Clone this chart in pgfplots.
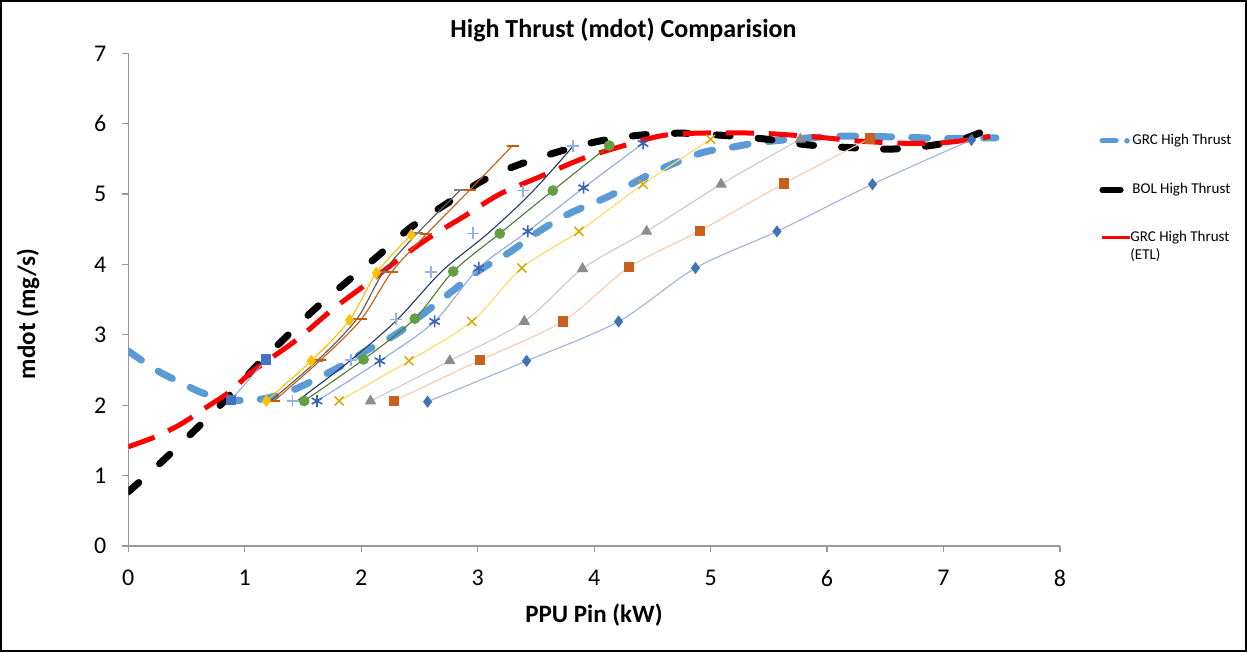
\documentclass[border=0pt]{standalone}
\usepackage{fontspec}
\setmainfont{Carlito}
\usepackage{pgfplots}
\pgfplotsset{compat=1.18}
\definecolor{grcblue}{HTML}{5B9BD5}
\definecolor{s1m}{HTML}{3F74B4}\definecolor{s1l}{HTML}{9FB3D6}
\definecolor{s2m}{HTML}{C9601E}\definecolor{s2l}{HTML}{F8CBAD}
\definecolor{s3m}{HTML}{8C8C8C}\definecolor{s3l}{HTML}{C9C9C9}
\definecolor{s4m}{HTML}{D9A400}\definecolor{s4l}{HTML}{FFD966}
\definecolor{s5m}{HTML}{3A62B2}\definecolor{s5l}{HTML}{8FAADC}
\definecolor{s6m}{HTML}{64A042}\definecolor{s6l}{HTML}{4E7A32}
\definecolor{s7m}{HTML}{8FB4E3}\definecolor{s7l}{HTML}{203864}
\definecolor{s8m}{HTML}{FFC000}
\definecolor{s9m}{HTML}{7F7F7F}\definecolor{s9l}{HTML}{595959}
\definecolor{s10m}{HTML}{C55A11}
\definecolor{s11m}{HTML}{4472C4}\definecolor{s11l}{HTML}{8FAADC}
\begin{document}
\begin{tikzpicture}[x=1pt,y=1pt]
\path[use as bounding box] (0,0) rectangle (623.5,326);
\draw[line width=1.2pt] (0.6,0.6) rectangle (622.9,325.4);
\begin{axis}[
  at={(64.15pt,53pt)}, anchor=south west,
  scale only axis, width=465.85pt, height=246.35pt,
  xmin=0,xmax=8,ymin=0,ymax=7,
  axis x line*=bottom, axis y line*=left,
  axis line style={draw=gray!80, line width=0.6pt, -},
  xtick={0,1,...,8}, ytick={0,1,...,7},
  tick style={draw=gray!80, line width=0.6pt},
  tick align=outside, major tick length=3pt,
  ticklabel style={font=\fontsize{12}{14}\selectfont},
  xticklabel style={yshift=-5.5pt},
  yticklabel style={xshift=-4.5pt},
  /pgf/number format/assume math mode=true,
  small/.style={smooth, tension=0.5, line width=0.55pt},
]
% GRC High Thrust
\addplot[smooth, color=grcblue, line width=3.5pt, dash pattern=on 8pt off 10pt, line cap=round, no marks] coordinates {
(0,2.77)(0.24,2.5)(0.44,2.33)(0.645,2.17)(0.88,2.08)(1.02,2.07)(1.19,2.1)(1.42,2.22)(1.62,2.38)(1.82,2.55)(2.05,2.78)(2.31,3.02)(2.62,3.41)(3.0,3.9)(3.28,4.18)(3.48,4.42)(3.77,4.71)(4.14,4.98)(4.5,5.3)(4.91,5.58)(5.2,5.67)(5.45,5.74)(6.05,5.82)(6.63,5.81)(7.0,5.79)(7.45,5.8)};
% BOL High Thrust
\addplot[smooth, color=black, line width=3.5pt, dash pattern=on 7pt off 14pt, line cap=round, no marks] coordinates {
(0,0.77)(0.27,1.17)(0.53,1.58)(0.79,2.0)(1.1,2.56)(1.33,2.93)(1.59,3.35)(1.88,3.76)(2.15,4.13)(2.42,4.52)(2.73,4.86)(3.04,5.19)(3.34,5.41)(3.71,5.61)(4.05,5.755)(4.41,5.84)(4.77,5.865)(5.14,5.83)(5.48,5.78)(5.83,5.70)(6.2,5.66)(6.57,5.64)(6.93,5.70)(7.2,5.8)(7.38,5.92)};
% GRC High Thrust (ETL)
\addplot[smooth, color=red, line width=2.5pt, dash pattern=on 14pt off 7.5pt, no marks] coordinates {
(0,1.41)(0.23,1.55)(0.45,1.73)(0.67,1.97)(0.87,2.19)(1.05,2.46)(1.27,2.72)(1.47,2.96)(1.76,3.37)(2.06,3.74)(2.36,4.12)(2.62,4.42)(2.88,4.68)(3.19,5.0)(3.54,5.25)(3.91,5.51)(4.28,5.70)(4.62,5.84)(5.05,5.87)(5.48,5.86)(5.91,5.81)(6.3,5.75)(6.7,5.72)(7.0,5.73)(7.26,5.78)(7.4,5.82)};
% small series
\addplot[small, color=s1l, mark=diamond*, mark size=2.6pt, mark options={fill=s1m, draw=s1m, solid}] coordinates {
(2.57,2.05)(3.42,2.63)(4.21,3.19)(4.87,3.95)(5.57,4.47)(6.39,5.14)(7.24,5.77)};
\addplot[small, color=s2l, mark=square*, mark size=2.3pt, mark options={fill=s2m, draw=s2m}] coordinates {
(2.28,2.06)(3.02,2.64)(3.73,3.19)(4.30,3.96)(4.91,4.48)(5.63,5.15)(6.37,5.79)};
\addplot[small, color=s3l, mark=triangle*, mark size=2.8pt, mark options={fill=s3m, draw=s3m}] coordinates {
(2.08,2.06)(2.76,2.63)(3.40,3.19)(3.90,3.94)(4.45,4.47)(5.09,5.14)(5.77,5.78)};
\addplot[small, color=s4l, mark=x, mark size=3.2pt, mark options={draw=s4m, line width=0.7pt}] coordinates {
(1.81,2.06)(2.41,2.63)(2.95,3.19)(3.38,3.95)(3.87,4.47)(4.42,5.14)(5.0,5.78)};
\addplot[small, color=s5l, mark=asterisk, mark size=3pt, mark options={draw=s5m, line width=0.8pt}] coordinates {
(1.62,2.06)(2.16,2.63)(2.63,3.19)(3.01,3.95)(3.43,4.47)(3.91,5.09)(4.42,5.72)};
\addplot[small, color=s6l, mark=*, mark size=2.4pt, mark options={fill=s6m, draw=s6m}] coordinates {
(1.51,2.06)(2.02,2.65)(2.46,3.23)(2.79,3.90)(3.19,4.44)(3.645,5.05)(4.13,5.69)};
% navy curve and light blue plus markers
\addplot[small, color=s7l, no marks] coordinates {
(1.45,2.06)(1.88,2.6)(2.30,3.2)(2.69,3.9)(3.08,4.43)(3.45,5.0)(3.82,5.68)};
\addplot[only marks, mark=+, mark size=3pt, mark options={draw=s7m, line width=0.8pt}] coordinates {
(1.41,2.06)(1.91,2.64)(2.30,3.22)(2.60,3.89)(2.96,4.44)(3.39,5.05)(3.82,5.68)};
\addplot[small, color=s9l, mark=-, mark size=3pt, mark options={draw=s9m, line width=1pt}] coordinates {
(1.22,2.06)(1.62,2.63)(1.96,3.22)(2.19,3.89)(2.48,4.44)(2.85,5.055)};
\addplot[small, color=s10m, mark=-, mark size=3pt, mark options={draw=s10m, line width=1pt}] coordinates {
(1.25,2.06)(1.65,2.64)(2.0,3.22)(2.26,3.89)(2.56,4.43)(2.93,5.055)(3.30,5.69)};
\addplot[small, color=s8m, mark=diamond*, mark size=2.6pt, mark options={fill=s8m, draw=s8m}] coordinates {
(1.185,2.06)(1.57,2.63)(1.90,3.21)(2.13,3.88)(2.43,4.42)};
\addplot[small, color=s11l, mark=square*, mark size=2.3pt, mark options={fill=s11m, draw=s11m}] coordinates {
(0.88,2.07)(1.185,2.65)};
\end{axis}
% titles
\node[font=\fontsize{13}{15}\bfseries\selectfont] at (311.75,311) {High Thrust (mdot) Comparision};
\node[font=\fontsize{12.5}{15}\bfseries\selectfont] at (297,18.5) {PPU Pin (kW)};
\node[font=\fontsize{12.5}{15}\bfseries\selectfont, rotate=90] at (14,169) {mdot (mg/s)};
% legend
\draw[grcblue, line width=2.6pt, line cap=round] (551,255.6) -- (558,255.6);
\fill[grcblue] (563.5,255.6) circle (1.4pt);
\node[anchor=west, inner sep=0pt, font=\fontsize{7.5}{9}\selectfont] at (566,255.6) {GRC High Thrust};
\draw[black, line width=2.6pt, line cap=round] (551,231) -- (560.5,231);
\node[anchor=west, inner sep=0pt, font=\fontsize{7.5}{9}\selectfont] at (566,231) {BOL High Thrust};
\draw[red, line width=1.8pt] (551,207.3) -- (565,207.3);
\node[anchor=west, inner sep=0pt, font=\fontsize{7.5}{9}\selectfont] at (565,207.3) {GRC High Thrust};
\node[anchor=west, inner sep=0pt, font=\fontsize{7.5}{9}\selectfont] at (565,198.3) {(ETL)};
\end{tikzpicture}
\end{document}
